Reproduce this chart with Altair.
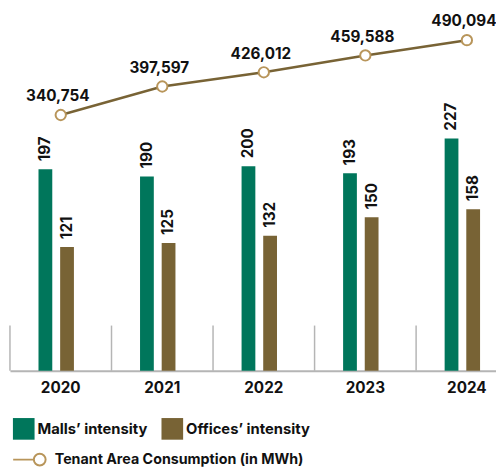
import altair as alt
import pandas as pd

years = ["2020", "2021", "2022", "2023", "2024"]
malls = [197, 190, 200, 193, 227]
offices = [121, 125, 132, 150, 158]
tenant = [340754, 397597, 426012, 459588, 490094]
series_names = ["Malls’ intensity", "Offices’ intensity"]
line_name = "Tenant Area Consumption (in MWh)"

bar_df = pd.DataFrame({
    "year": years * 2,
    "series": [series_names[0]] * len(years) + [series_names[1]] * len(years),
    "value": malls + offices,
})
line_df = pd.DataFrame({"year": years, "value": tenant, "kind": [line_name] * len(years)})
div_df = pd.DataFrame({"year": years})

FONT = "Inter"
TXT = "#111111"
GREEN = "#00765B"
BROWN = "#786335"
TAN = "#B8955A"
GRAY = "#b5b5b5"

xscale = alt.Scale(domain=years, range=[-2, 514], paddingInner=0, paddingOuter=0)
xaxis = alt.Axis(title=None, labelAngle=0, labelFont=FONT, labelFontSize=15.5,
                 labelFontWeight="bold", labelColor=TXT, ticks=False,
                 domainColor=GRAY, domainWidth=2, labelPadding=10, grid=False)
x = alt.X("year:O", scale=xscale, axis=xaxis)
xoff = alt.XOffset("series:N", scale=alt.Scale(domain=series_names, range=[29, 65],
                                               paddingInner=0.3636, paddingOuter=0))
ybar = alt.Y("value:Q", scale=alt.Scale(domain=[0, 349], nice=False, zero=True), axis=None)
yline = alt.Y("value:Q", scale=alt.Scale(domain=[-170000, 543000], nice=False, zero=False), axis=None)

dividers = alt.Chart(div_df).mark_rule(color=GRAY, strokeWidth=1.5).encode(
    x=alt.X("year:O", scale=xscale, axis=xaxis, bandPosition=0),
    y=alt.value(317), y2=alt.value(363))

bars = alt.Chart(bar_df).mark_bar().encode(
    x=x, xOffset=xoff, y=ybar,
    color=alt.Color("series:N", scale=alt.Scale(domain=series_names, range=[GREEN, BROWN]),
                    legend=alt.Legend(title=None, orient="none", legendX=1, legendY=411,
                                      direction="horizontal", columns=2, symbolType="square",
                                      symbolSize=484, symbolStrokeWidth=0, symbolOpacity=1,
                                      labelFont=FONT, labelFontSize=15, labelFontWeight="bold",
                                      labelColor=TXT, labelOffset=3, columnPadding=14, padding=0,
                                      labelLimit=400)))

bar_text = alt.Chart(bar_df).mark_text(angle=270, align="left", baseline="middle", dx=8,
                                       font=FONT, fontSize=15.5, fontWeight="bold", color=TXT).encode(
    x=x, xOffset=xoff, y=ybar, text="value:Q")

line = alt.Chart(line_df).mark_line(color=BROWN, strokeWidth=2.5).encode(x=x, y=yline)

points = alt.Chart(line_df).mark_point(filled=False, fill="white", size=110, strokeWidth=2,
                                       opacity=1, fillOpacity=1).encode(
    x=x, y=yline,
    stroke=alt.Stroke("kind:N", scale=alt.Scale(domain=[line_name], range=[TAN]),
                      legend=alt.Legend(title=None, orient="none", legendX=21, legendY=446,
                                        symbolType="M -4.5 0 L -1 0 M 1 0 A 1 1 0 1 1 -1 0 A 1 1 0 1 1 1 0",
                                        symbolSize=144, symbolStrokeWidth=2, symbolFillColor="white",
                                        labelFont=FONT, labelFontSize=14.5, labelFontWeight="bold",
                                        labelColor=TXT, labelOffset=8, padding=0, labelLimit=400)))

labels = alt.Chart(line_df).mark_text(dy=-14, dx=-3, baseline="alphabetic", align="center",
                                      font=FONT, fontSize=15.5, fontWeight="bold", color=TXT).encode(
    x=x, y=yline, text=alt.Text("value:Q", format=","))

chart = alt.layer(dividers, bars, bar_text, line, points, labels).resolve_scale(
    y="independent"
).properties(
    width=492, height=363,
    autosize=alt.AutoSizeParams(type="none"),
    padding={"left": 4, "top": 2, "right": 0, "bottom": 95},
    background="white",
).configure_view(stroke=None)

chart.save("out.html", embed_options={"renderer": "svg", "actions": False})
